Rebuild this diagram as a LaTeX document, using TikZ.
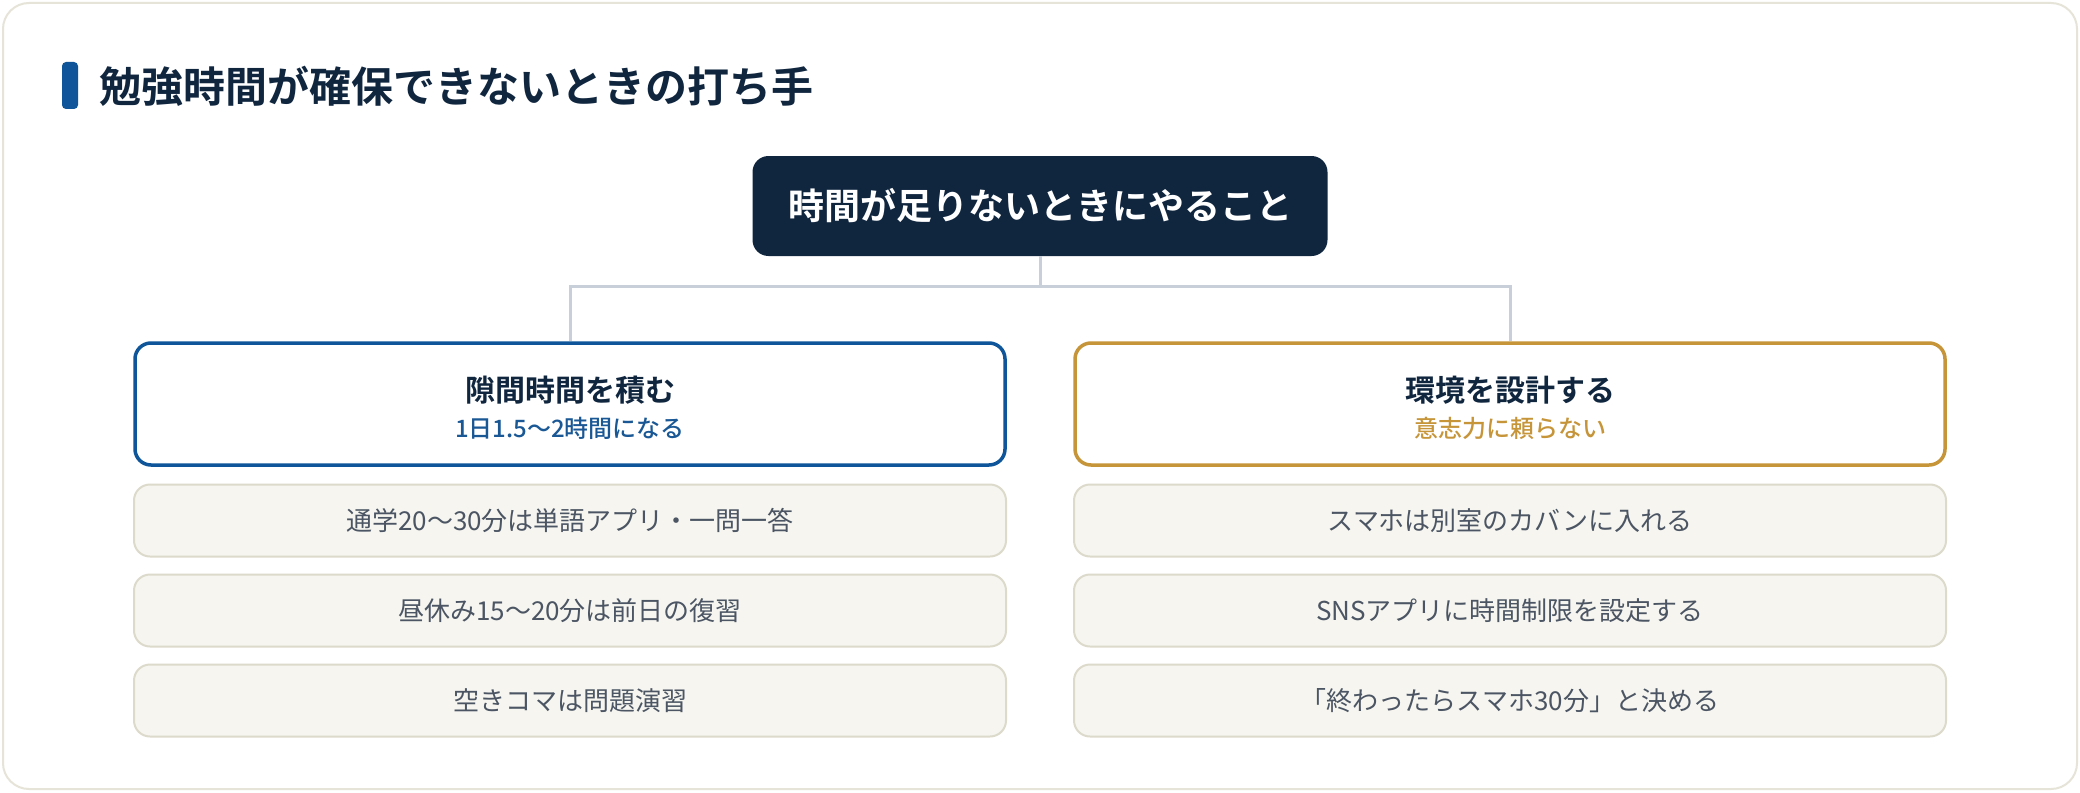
\documentclass[tikz,border=0pt]{standalone}
\usepackage{fontspec}
\setmainfont{Noto Sans CJK JP}[BoldFont=* Bold]
\newfontfamily\medfont{Noto Sans CJK JP Medium}
\definecolor{navy}{HTML}{10263F}
\definecolor{bluec}{HTML}{0E5599}
\definecolor{bluetxt}{HTML}{1A5895}
\definecolor{goldc}{HTML}{C6953A}
\definecolor{itemfill}{HTML}{F6F5F0}
\definecolor{itemline}{HTML}{DCDACB}
\definecolor{itemtxt}{HTML}{4B5563}
\definecolor{connc}{HTML}{C9CFD8}
\definecolor{cardline}{HTML}{E6E4D8}
\tikzset{
  catbox/.style={draw, line width=1.75pt, fill=white, rounded corners=8pt, minimum width=435pt, minimum height=61pt, inner sep=0pt},
  itembox/.style={draw=itemline, line width=1pt, fill=itemfill, rounded corners=8pt, minimum width=436pt, minimum height=36pt, inner sep=0pt},
  itemtext/.style={text=itemtxt, font=\fontsize{13pt}{15pt}\selectfont, inner sep=0pt},
  cattitle/.style={text=navy, font=\fontsize{15pt}{18pt}\selectfont\bfseries, inner sep=0pt},
  catsub/.style={font=\fontsize{12pt}{14pt}\selectfont\medfont, inner sep=0pt},
  conn/.style={draw=connc, line width=1.5pt},
}
\begin{document}
\begin{tikzpicture}[x=0.5pt,y=-0.5pt]
\useasboundingbox (0,0) rectangle (2080,792);
\fill[white] (0,0) rectangle (2080,792);
\draw[cardline, line width=1pt, fill=white, rounded corners=13pt] (3,3) rectangle (2077,789);
% title
\fill[bluec, rounded corners=2pt] (62,62) rectangle (78,109);
\node[anchor=west, text=navy, font=\fontsize{21pt}{25pt}\selectfont\bfseries, inner sep=0pt] (title) at (99,86) {勉強時間が確保できないときの打ち手};
% top node
\node[fill=navy, rounded corners=8pt, minimum width=287.5pt, minimum height=50pt, inner sep=0pt, text=white, font=\fontsize{18pt}{21pt}\selectfont\bfseries] (top) at (1040,206) {時間が足りないときにやること};
% category boxes
\node[catbox, draw=bluec] (left) at (570,404) {};
\node[catbox, draw=goldc] (right) at (1510,404) {};
\node[cattitle] (lt) at (570,390) {隙間時間を積む};
\node[catsub, text=bluetxt] (ls) at (570,428) {1日1.5〜2時間になる};
\node[cattitle] (rt) at (1510,390) {環境を設計する};
\node[catsub, text=goldc] (rs) at (1510,428) {意志力に頼らない};
% connectors
\coordinate (hub) at (1040,286);
\draw[conn] (top.south) -- (hub);
\draw[conn] (hub) -| (left.north);
\draw[conn] (hub) -| (right.north);
% items
\node[itembox] (l1) at (570,520.5) {};
\node[itembox] (l2) at (570,610.5) {};
\node[itembox] (l3) at (570,700.5) {};
\node[itembox] (r1) at (1510,520.5) {};
\node[itembox] (r2) at (1510,610.5) {};
\node[itembox] (r3) at (1510,700.5) {};
\node[itemtext] (l1t) at (l1.center) {通学20〜30分は単語アプリ・一問一答};
\node[itemtext] (l2t) at (l2.center) {昼休み15〜20分は前日の復習};
\node[itemtext] (l3t) at (l3.center) {空きコマは問題演習};
\node[itemtext] (r1t) at (r1.center) {スマホは別室のカバンに入れる};
\node[itemtext] (r2t) at (r2.center) {SNSアプリに時間制限を設定する};
\node[itemtext] (r3t) at (r3.center) {「終わったらスマホ30分」と決める};
\end{tikzpicture}
\end{document}
